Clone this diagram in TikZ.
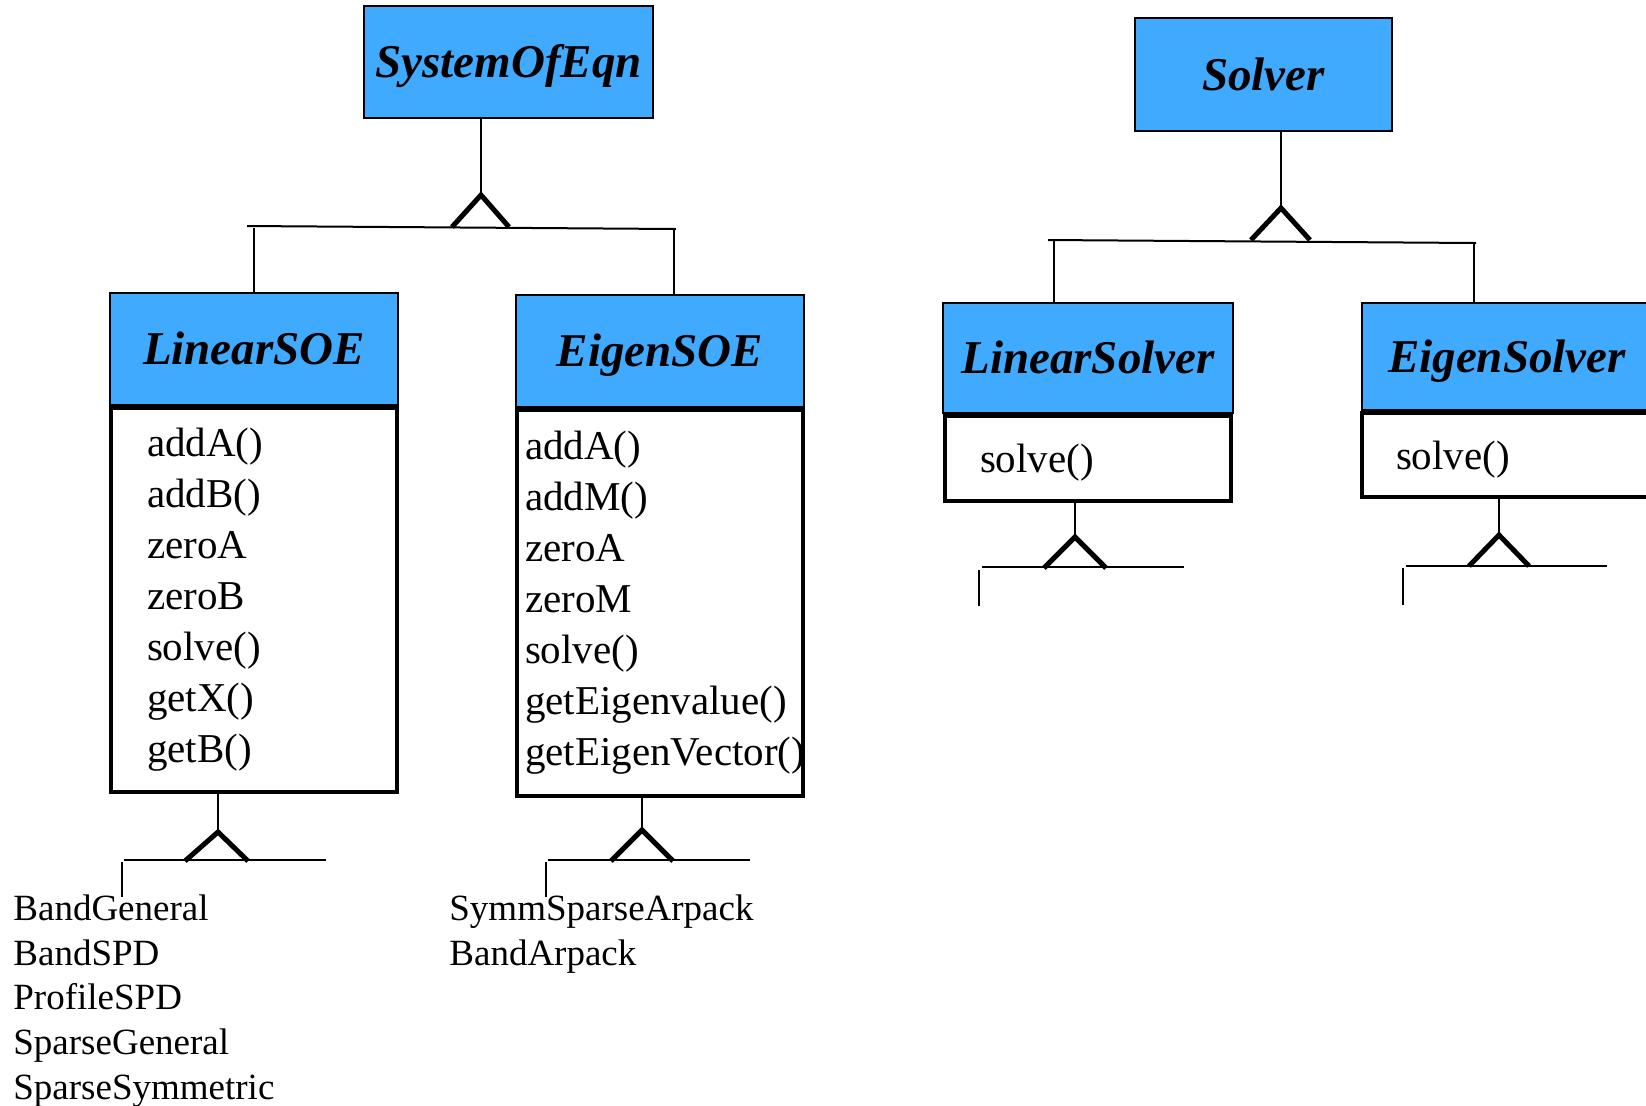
\documentclass[tikz,border=0pt]{standalone}
\usepackage{fontspec}
\setmainfont{Liberation Serif}
\usetikzlibrary{positioning}

\definecolor{classblue}{RGB}{64,170,255}

\tikzset{
  classhead/.style={draw, fill=classblue, line width=0.9pt, inner sep=0pt,
    minimum width=144pt, minimum height=56pt, text height=17.6pt, text depth=2.1pt,
    font=\fontsize{23.5}{28}\selectfont\bfseries\itshape},
  classbody/.style={draw, line width=2pt, align=left, inner ysep=0pt,
    font=\fontsize{20.5}{25.5}\selectfont},
  link/.style={line width=1pt},
  isa/.style={line width=2.5pt},
  sublist/.style={align=left, anchor=west, inner sep=0pt,
    font=\fontsize{18.5}{22.3}\selectfont}
}

\begin{document}
\begin{tikzpicture}[x=0.5pt,y=-0.5pt]
    \useasboundingbox (0,0) rectangle (1646,1105);

    % base classes
    \node[classhead, minimum width=144.5pt] (soe) at (508.5,62) {SystemOfEqn};
    \node[classhead, minimum width=128.5pt, minimum height=56.5pt] (solver) at (1263.5,74.5) {Solver};

    % SOE subclasses
    \node[classhead] (lsoe) at (254,349) {LinearSOE};
    \node[classbody, below=0pt of lsoe, text width=107pt, inner xsep=18pt, minimum height=192pt] (lsoeBody)
        {addA()\\addB()\\zeroA\\zeroB\\solve()\\getX()\\getB()};
    \node[classhead] (esoe) at (660,351) {EigenSOE};
    \node[classbody, below=0pt of esoe, text width=135pt, inner xsep=4pt, minimum height=193pt] (esoeBody)
        {addA()\\addM()\\zeroA\\zeroM\\solve()\\getEigenvalue()\\getEigenVector()};

    % solver subclasses
    \node[classhead, minimum width=145pt, minimum height=55pt] (lsol) at (1088,358) {LinearSolver};
    \node[classbody, below=0pt of lsol, text width=108pt, inner xsep=17.5pt, minimum height=42.5pt, text depth=0pt] (lsolBody) {solve()};
    \node[classhead, minimum width=145pt, minimum height=53.5pt] (esol) at (1507,356.5) {EigenSolver};
    \node[classbody, below=0pt of esol, text width=111pt, inner xsep=17pt, minimum height=42pt, text depth=0pt] (esolBody) {solve()};

    % concrete classes
    \node[sublist] (lsoeSubs) at (13,1001) {BandGeneral\\BandSPD\\ProfileSPD\\SparseGeneral\\SparseSymmetric};
    \node[sublist] (esoeSubs) at (449,934) {SymmSparseArpack\\BandArpack};

    % SystemOfEqn hierarchy
    \coordinate (soeTip) at (481,195);
    \coordinate (soeBarL) at (247,226);
    \coordinate (soeBarR) at (676,229);
    \coordinate (lsoeUp) at (254,228);
    \coordinate (esoeUp) at (674,229);
    \draw[link] (soe.south -| soeTip) -- (soeTip);
    \draw[isa] (soeTip) ++(-29,32) -- (soeTip) -- ++(28,32);
    \draw[link] (soeBarL) -- (soeBarR);
    \draw[link] (lsoeUp) -- (lsoe.north);
    \draw[link] (esoeUp) -- (esoeUp |- esoe.north);

    % Solver hierarchy
    \coordinate (solTip) at (1281,208);
    \coordinate (solBarL) at (1048,240);
    \coordinate (solBarR) at (1476,243);
    \coordinate (lsolUp) at (1054,240);
    \coordinate (esolUp) at (1474,243);
    \draw[link] (solver.south -| solTip) -- (solTip);
    \draw[isa] (solTip) ++(-30,32) -- (solTip) -- ++(29,32);
    \draw[link] (solBarL) -- (solBarR);
    \draw[link] (lsolUp) -- (lsolUp |- lsol.north);
    \draw[link] (esolUp) -- (esolUp |- esol.north);

    % LinearSOE -> concrete
    \coordinate (lsoeTip) at (218,832);
    \coordinate (lsoeEnd) at (122,897);
    \draw[link] (lsoeBody.south -| lsoeTip) -- (lsoeTip);
    \draw[isa] (lsoeTip) ++(-33,29) -- (lsoeTip) -- ++(30,29);
    \draw[link] (124,860) -- (326,860);
    \draw[link] (lsoeEnd |- 0,862) -- (lsoeEnd);

    % EigenSOE -> concrete
    \coordinate (esoeTip) at (642,830);
    \coordinate (esoeEnd) at (546,897);
    \draw[link] (esoeBody.south -| esoeTip) -- (esoeTip);
    \draw[isa] (esoeTip) ++(-31,31) -- (esoeTip) -- ++(31,31);
    \draw[link] (548,860) -- (750,860);
    \draw[link] (esoeEnd |- 0,862) -- (esoeEnd);

    % LinearSolver -> concrete
    \coordinate (lsolTip) at (1075,537);
    \coordinate (lsolEnd) at (979,606);
    \draw[link] (lsolBody.south -| lsolTip) -- (lsolTip);
    \draw[isa] (lsolTip) ++(-31,31) -- (lsolTip) -- ++(31,31);
    \draw[link] (982,567) -- (1184,567);
    \draw[link] (lsolEnd |- 0,570) -- (lsolEnd);

    % EigenSolver -> concrete
    \coordinate (esolTip) at (1499,535);
    \coordinate (esolEnd) at (1403,605);
    \draw[link] (esolBody.south -| esolTip) -- (esolTip);
    \draw[isa] (esolTip) ++(-30,31) -- (esolTip) -- ++(30,31);
    \draw[link] (1406,566) -- (1607,566);
    \draw[link] (esolEnd |- 0,568) -- (esolEnd);
\end{tikzpicture}
\end{document}
